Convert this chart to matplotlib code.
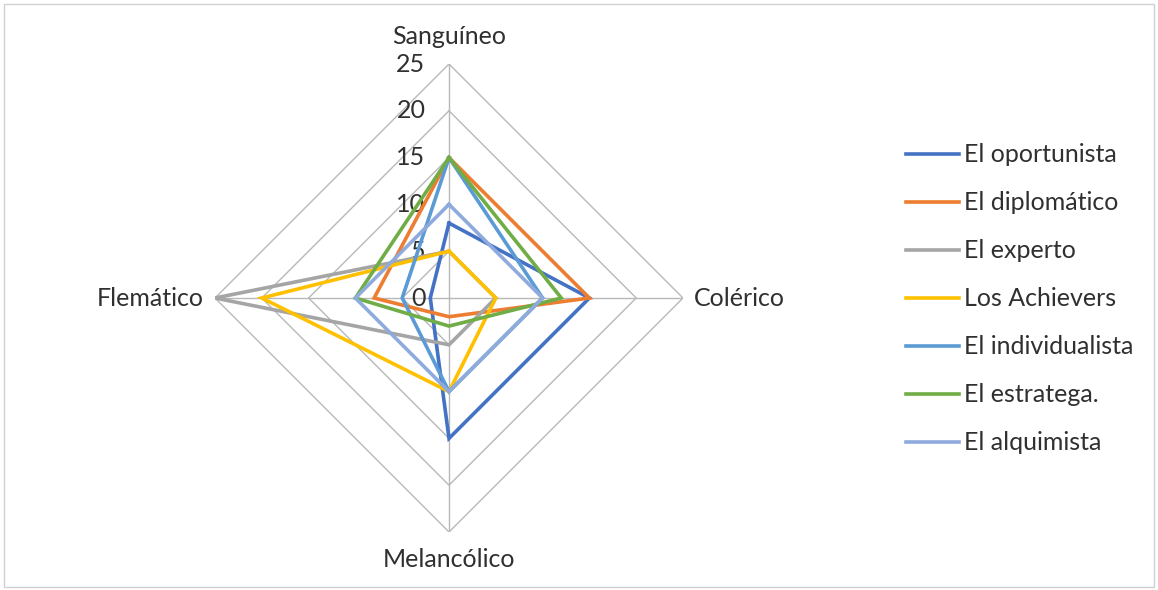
import numpy as np
import matplotlib
matplotlib.use("Agg")
import matplotlib.pyplot as plt
from matplotlib.patches import Rectangle

categories = ["Sanguíneo", "Colérico", "Melancólico", "Flemático"]
series_names = ["El oportunista", "El diplomático", "El experto", "Los Achievers",
                "El individualista", "El estratega.", "El alquimista"]
oportunista = [8, 15, 15, 2]
diplomatico = [15, 15, 2, 8]
experto = [5, 5, 5, 25]
achievers = [5, 5, 10, 20]
individualista = [15, 10, 10, 5]
estratega = [15, 12, 3, 10]
alquimista = [10, 10, 10, 10]
r_ticks = [0, 5, 10, 15, 20, 25]

series_values = [oportunista, diplomatico, experto, achievers,
                 individualista, estratega, alquimista]
colors = ["#4472C4", "#ED7D31", "#A5A5A5", "#FFC000", "#5B9BD5", "#70AD47", "#8FAADC"]

plt.rcParams['font.family'] = ['Lato', 'DejaVu Sans']
FS = 18
TXT = "#303030"

fig = plt.figure(figsize=(11.58, 5.90), dpi=100)
fig.patches.append(Rectangle((4/1158, 3/590), 1150/1158, 583/590, transform=fig.transFigure,
                             fill=False, edgecolor="#D0D0D0", linewidth=1))

cx, cy, R = 449, 590 - 298, 234
ax = fig.add_axes([(cx - R) / 1158, (cy - R) / 590, 2 * R / 1158, 2 * R / 590], projection='polar')
ax.set_theta_offset(np.pi / 2)
ax.set_theta_direction(-1)
ax.set_ylim(0, 25)
ax.spines['polar'].set_visible(False)
ax.set_facecolor('none')

angles = np.linspace(0, 2 * np.pi, len(categories), endpoint=False)
closed = np.concatenate([angles, angles[:1]])

ax.set_yticks([])
ax.set_xticks([])
ax.grid(False)

grid_c = "#B8B8B8"
for r in r_ticks[1:]:
    ax.plot(closed, [r] * len(closed), color=grid_c, lw=1, zorder=1)
for a in angles:
    ax.plot([a, a], [0, r_ticks[-1]], color=grid_c, lw=1, zorder=1)

for name, vals, c in zip(series_names, series_values, colors):
    ax.plot(closed, list(vals) + [vals[0]], color=c, lw=2.6, label=name, zorder=3,
            solid_joinstyle='miter')

for v in r_ticks:
    ax.annotate(str(v), xy=(0, v), xytext=(-17, 0), textcoords='offset points',
                ha='right', va='center', fontsize=FS, color=TXT, zorder=2)

# category labels
ax.annotate(categories[0], xy=(angles[0], 25), xytext=(0, 20), textcoords='offset points',
            ha='center', va='center', fontsize=FS, color=TXT)
ax.annotate(categories[1], xy=(angles[1], 25), xytext=(8, 0), textcoords='offset points',
            ha='left', va='center', fontsize=FS, color=TXT)
ax.annotate(categories[2], xy=(angles[2], 25), xytext=(0, -20), textcoords='offset points',
            ha='center', va='center', fontsize=FS, color=TXT)
ax.annotate(categories[3], xy=(angles[3], 25), xytext=(-8, 0), textcoords='offset points',
            ha='right', va='center', fontsize=FS, color=TXT)

handles, labels = ax.get_legend_handles_labels()
leg = fig.legend(handles, labels, loc='center left', bbox_to_anchor=(906 / 1158, (590 - 299) / 590),
                 frameon=False, fontsize=FS, handlelength=2.1, handletextpad=0.2,
                 labelspacing=1.0, borderaxespad=0, borderpad=0)
for t in leg.get_texts():
    t.set_color(TXT)

fig.savefig("out.png", dpi=100)
